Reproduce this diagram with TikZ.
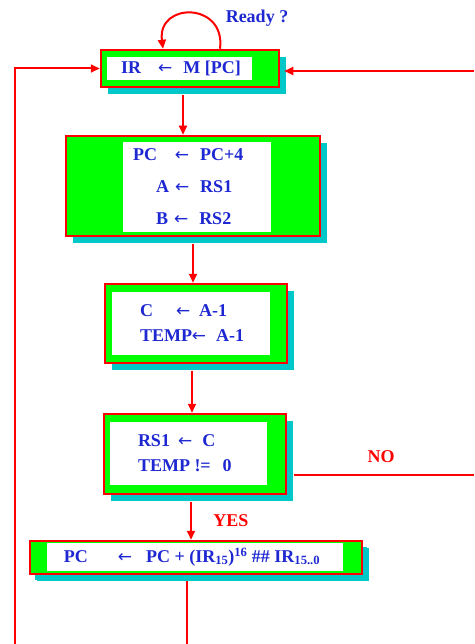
\documentclass[tikz,border=0pt]{standalone}
\usepackage{fontspec}
\setmainfont{Liberation Serif}
\newfontfamily\arrowfont{DejaVu Sans}
\usetikzlibrary{positioning,arrows.meta,shadows}
\definecolor{boxgreen}{RGB}{0,255,0}
\definecolor{linered}{RGB}{255,0,0}
\definecolor{shadowcyan}{RGB}{0,200,200}
\definecolor{textblue}{RGB}{30,40,210}
\newcommand\larr{{\arrowfont\mdseries\fontsize{17}{17}\selectfont ←}}

\begin{document}
\begin{tikzpicture}[
    x=1pt, y=-1pt,
    font=\fontsize{18}{22}\selectfont\bfseries,
    >={Triangle[length=9pt,width=8pt]},
    regbox/.style={
        draw=linered,
        fill=boxgreen,
        line width=2.5pt,
        inner sep=0pt,
        drop shadow={fill=shadowcyan, opacity=1, shadow xshift=7pt, shadow yshift=-7pt}
    },
    slot/.style={fill=white, inner sep=0pt},
    optext/.style={text=textblue, align=left, inner sep=0pt},
    flow/.style={->, draw=linered, line width=2pt},
    wire/.style={draw=linered, line width=2pt},
    cond/.style={text=linered}
]
    \useasboundingbox (0,0) rectangle (474,644);

    % IR <- M[PC]
    \node[regbox, minimum width=178pt, minimum height=37pt] (fetch) at (190,68.5) {};
    \node[slot, minimum width=145pt, minimum height=23pt] (fetch-in) at (179.5,68.5) {};
    \node[optext] (fetch-t) at (181,68.5) {IR\hspace{17pt}\larr\hspace{11pt}M [PC]};
    \node[text=textblue] (ready) at (257,18) {Ready ?};

    % decode
    \node[regbox, minimum width=254pt, minimum height=100pt] (decode) at (193,186) {};
    \node[slot, minimum width=148pt, minimum height=90pt] (decode-in) at (197,187) {};
    \node[optext, right=10pt of decode-in.west] (decode-t) {
        PC\hspace{18pt}\larr\hspace{11pt}PC+4\\[10pt]
        \hspace{23pt}A\hspace{6pt}\larr\hspace{11pt}RS1\\[10pt]
        \hspace{23pt}B\hspace{6pt}\larr\hspace{11pt}RS2
    };

    % execute
    \node[regbox, minimum width=182pt, minimum height=79pt] (sub) at (196,323.5) {};
    \node[slot, minimum width=158pt, minimum height=63pt] (sub-in) at (191,323.5) {};
    \node[optext, right=28pt of sub-in.west] (sub-t) {
        C\hspace{23pt}\larr\hspace{9pt}A-1\\[3pt]
        TEMP\larr\hspace{10pt}A-1
    };

    % write back and test
    \node[regbox, minimum width=182pt, minimum height=80pt] (test) at (195,454) {};
    \node[slot, minimum width=157pt, minimum height=63pt] (test-in) at (188.5,453.5) {};
    \node[optext, right=28pt of test-in.west] (test-t) {
        RS1\hspace{8pt}\larr\hspace{10pt}C\\[3pt]
        TEMP !=\hspace{12pt}0
    };

    % branch
    \node[regbox, minimum width=332pt, minimum height=33pt,
          drop shadow={fill=shadowcyan, opacity=1, shadow xshift=5pt, shadow yshift=-6pt}] (branch) at (196,557.5) {};
    \node[slot, minimum width=296pt, minimum height=28pt] (branch-in) at (195,557) {};
    \node[optext] (branch-t) at (192,557) {PC\hspace{30pt}\larr\hspace{14pt}PC + (IR\textsubscript{15})\textsuperscript{16} \#\# IR\textsubscript{15..0}};

    \node[cond] (no) at (381,457) {NO};
    \node[cond] (yes) at (231,521) {YES};

    \coordinate (lbot) at (15,644);
    \coordinate (rin) at (474,71);
    \coordinate (rno) at (474,475);
    \coordinate (bbot) at (187,644);

    % connectors
    \draw[flow] ([xshift=30pt]fetch.north) .. controls +(6,-47) and +(-6,-47) .. ([xshift=-27pt]fetch.north);
    \draw[flow] (lbot) |- (fetch.west);
    \draw[flow] (rin) -- ([xshift=4pt,yshift=-2.5pt]fetch.east);
    \draw[flow] ([xshift=-7pt,yshift=-7pt]fetch.south) -- ([xshift=-7pt]fetch.south |- decode.north);
    \draw[flow] ([yshift=-7pt]decode.south) -- (decode.south |- sub.north);
    \draw[flow] ([xshift=-4pt,yshift=-7pt]sub.south) -- ([xshift=-4pt]sub.south |- test.north);
    \draw[flow] ([xshift=-4pt,yshift=-7pt]test.south) -- ([xshift=-4pt]test.south |- branch.north);
    \draw[wire] ([xshift=7pt,yshift=-21pt]test.east) -- (rno);
    \draw[wire] ([xshift=-9pt,yshift=-6pt]branch.south) -- (bbot);

\end{tikzpicture}
\end{document}
